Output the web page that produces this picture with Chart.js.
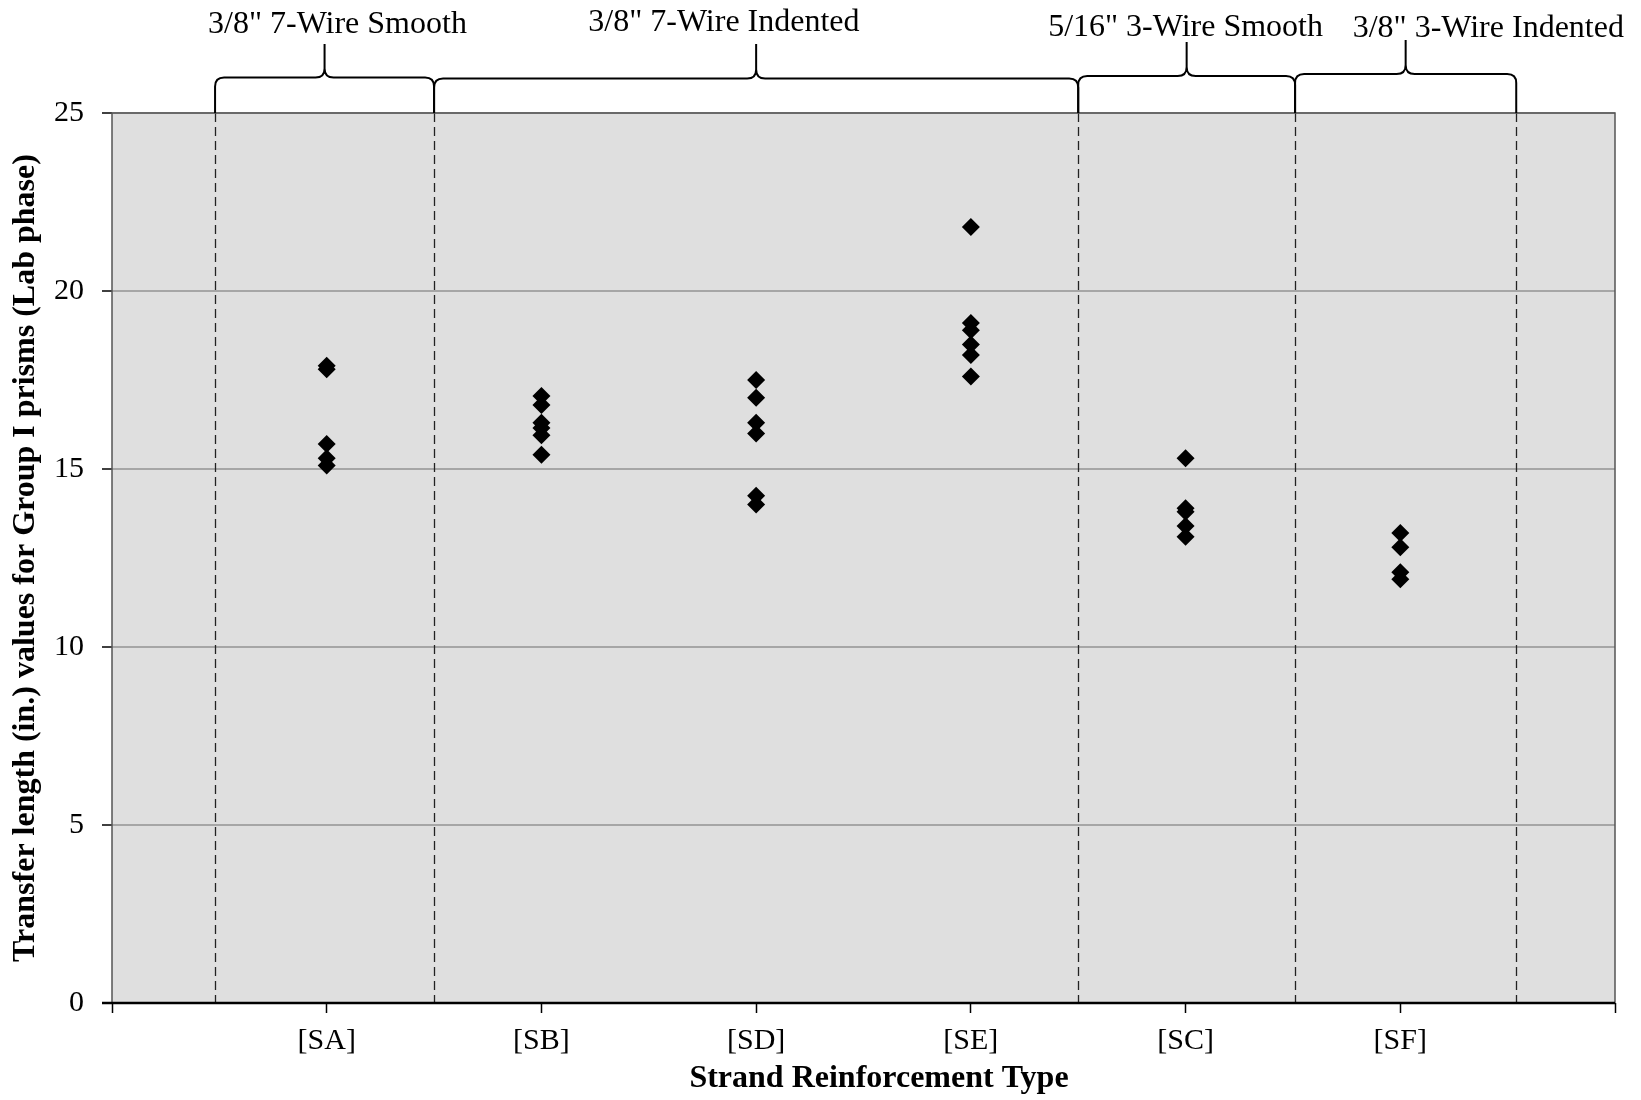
<!DOCTYPE html>
<html><head><meta charset="utf-8">
<script src="https://cdn.jsdelivr.net/npm/chart.js@4/dist/chart.umd.min.js"></script>
<style>html,body{margin:0;padding:0;background:#fff;}#wrap{width:1641px;height:1100px;}</style>
</head><body><div id="wrap"><canvas id="c" width="1641" height="1100"></canvas></div>
<script>
// ---- data ----
const categories = ['[SA]', '[SB]', '[SD]', '[SE]', '[SC]', '[SF]'];
const valuesSA = [17.9, 17.8, 15.7, 15.3, 15.1];
const valuesSB = [17.05, 16.8, 16.3, 16.15, 15.95, 15.4];
const valuesSD = [17.5, 17.0, 16.3, 16.0, 14.25, 14.0];
const valuesSE = [21.8, 19.1, 18.9, 18.5, 18.2, 17.6];
const valuesSC = [15.3, 13.9, 13.8, 13.4, 13.1];
const valuesSF = [13.2, 12.8, 12.1, 11.9];
const yTicks = [0, 5, 10, 15, 20, 25];
const groupLabels = ['3/8" 7-Wire Smooth', '3/8" 7-Wire Indented', '5/16" 3-Wire Smooth', '3/8" 3-Wire Indented'];
const groupBounds = [[0.48, 1.5], [1.5, 4.5], [4.5, 5.51], [5.51, 6.54]];
const dividers = [0.48, 1.5, 4.5, 5.51, 6.54];
const yTitle = 'Transfer length (in.) values for Group I prisms (Lab phase)';
const xTitle = 'Strand Reinforcement Type';

// ---- layout / style (not data) ----
const bracketLayout = {
  labelX: [1.05, 2.85, 5.0, 6.41],   // in x-axis units
  labelY: [25, 23, 28, 29],          // px
  topY: [77.5, 78.5, 76, 74],        // px
  peakY: [44, 44, 42, 40]            // px
};
const FONT = 'Liberation Serif';

const series = [valuesSA, valuesSB, valuesSD, valuesSE, valuesSC, valuesSF];
const points = [];
series.forEach((arr, i) => arr.forEach(v => points.push({x: i + 1, y: v})));

const bgPlugin = {
  id: 'bg',
  beforeDraw(chart) {
    const {ctx, chartArea: a} = chart;
    ctx.save();
    ctx.fillStyle = '#fff';
    ctx.fillRect(0, 0, chart.width, chart.height);
    ctx.fillStyle = '#DFDFDF';
    ctx.fillRect(a.left, a.top, a.right - a.left, a.bottom - a.top);
    ctx.restore();
  }
};

const overlayPlugin = {
  id: 'overlay',
  afterDraw(chart) {
    const {ctx, chartArea: a, scales: {x, y}} = chart;
    ctx.save();
    // dashed dividers
    ctx.strokeStyle = '#222';
    ctx.lineWidth = 1.3;
    ctx.setLineDash([9, 5]);
    dividers.forEach(d => {
      const px = Math.round(x.getPixelForValue(d)) + 0.5;
      ctx.beginPath(); ctx.moveTo(px, a.top); ctx.lineTo(px, a.bottom); ctx.stroke();
    });
    ctx.setLineDash([]);
    // plot border
    ctx.strokeStyle = '#555';
    ctx.lineWidth = 1.5;
    ctx.beginPath();
    ctx.moveTo(a.left, a.bottom); ctx.lineTo(a.left, a.top); ctx.lineTo(a.right, a.top); ctx.lineTo(a.right, a.bottom);
    ctx.stroke();
    // x axis line
    ctx.strokeStyle = '#000';
    ctx.lineWidth = 2.5;
    ctx.beginPath(); ctx.moveTo(a.left - 10, a.bottom); ctx.lineTo(a.right, a.bottom); ctx.stroke();
    // braces
    ctx.strokeStyle = '#000';
    ctx.lineWidth = 2;
    ctx.lineJoin = 'round';
    groupBounds.forEach((g, i) => {
      const x1 = x.getPixelForValue(g[0]);
      const x2 = x.getPixelForValue(g[1]);
      const xm = (x1 + x2) / 2;
      const t = bracketLayout.topY[i];
      const p = bracketLayout.peakY[i];
      const r = 9;
      const base = a.top;
      ctx.beginPath();
      ctx.moveTo(x1, base);
      ctx.lineTo(x1, t + r);
      ctx.quadraticCurveTo(x1, t, x1 + r, t);
      ctx.lineTo(xm - r, t);
      ctx.quadraticCurveTo(xm, t, xm, t - r);
      ctx.lineTo(xm, p);
      ctx.moveTo(xm, p);
      ctx.lineTo(xm, t - r);
      ctx.quadraticCurveTo(xm, t, xm + r, t);
      ctx.lineTo(x2 - r, t);
      ctx.quadraticCurveTo(x2, t, x2, t + r);
      ctx.lineTo(x2, base);
      ctx.stroke();
    });
    // group labels
    ctx.fillStyle = '#000';
    ctx.font = '32px "' + FONT + '"';
    ctx.textAlign = 'center';
    ctx.textBaseline = 'middle';
    groupLabels.forEach((lab, i) => {
      ctx.fillText(lab, x.getPixelForValue(bracketLayout.labelX[i]), bracketLayout.labelY[i]);
    });
    // x title
    ctx.font = 'bold 32px "' + FONT + '"';
    ctx.fillText(xTitle, 879, 1079);
    ctx.restore();
  }
};

new Chart(document.getElementById('c'), {
  type: 'scatter',
  data: {datasets: [{
    data: points,
    pointStyle: 'rectRot',
    pointRadius: 9,
    pointBackgroundColor: '#000',
    pointBorderColor: '#000',
    pointBorderWidth: 0
  }]},
  options: {
    responsive: false,
    animation: false,
    events: [],
    layout: {padding: {left: 0, top: 113, right: 26, bottom: 0}},
    plugins: {legend: {display: false}, tooltip: {enabled: false}},
    scales: {
      x: {
        type: 'linear', min: 0, max: 7,
        afterBuildTicks: s => { s.ticks = [0, 1, 2, 3, 4, 5, 6, 7].map(v => ({value: v})); },
        ticks: {
          callback: v => categories[v - 1] || '',
          autoSkip: false, maxRotation: 0, minRotation: 0,
          font: {family: FONT, size: 30}, color: '#000', padding: 10
        },
        grid: {drawOnChartArea: false, tickLength: 10, tickColor: '#000', tickWidth: 1.5},
        border: {display: false},
        afterFit: s => { s.height = 97; }
      },
      y: {
        min: 0, max: 25,
        afterBuildTicks: s => { s.ticks = yTicks.map(v => ({value: v})); },
        ticks: {font: {family: FONT, size: 30}, color: '#000', padding: 18},
        grid: {color: '#A6A6A6', lineWidth: 2, tickLength: 10, tickColor: '#000', tickWidth: 1.5},
        border: {display: false},
        title: {display: true, text: yTitle, color: '#000',
                font: {family: FONT, size: 32, weight: 'bold'}, padding: {top: 7, bottom: 0}},
        afterFit: s => { s.width = 112; }
      }
    }
  },
  plugins: [bgPlugin, overlayPlugin]
});
</script>
</body></html>
